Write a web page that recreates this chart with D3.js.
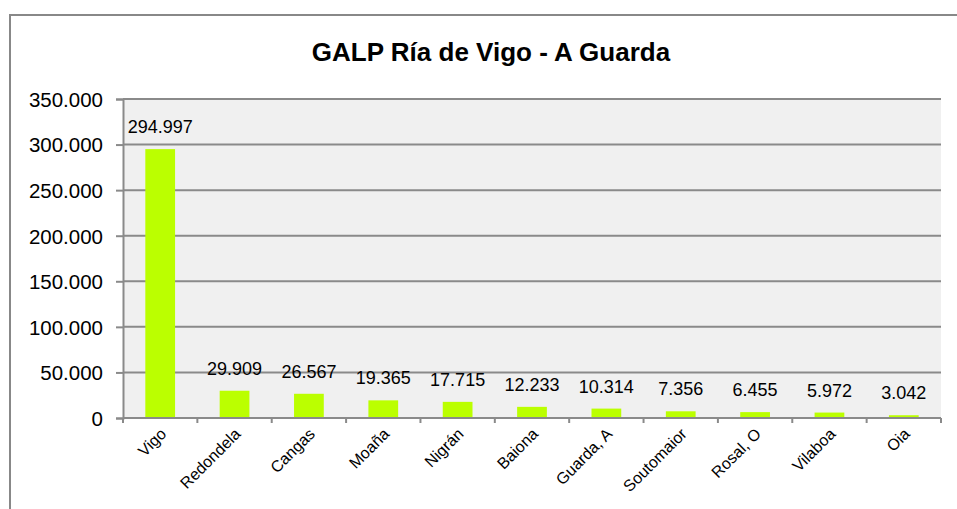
<!DOCTYPE html>
<html>
<head>
<meta charset="utf-8">
<script src="https://cdn.jsdelivr.net/npm/d3@7"></script>
<style>
  body { margin: 0; background: #fff; }
  text { font-family: "Liberation Sans", Arial, Helvetica, sans-serif; fill: #000; }
</style>
</head>
<body>
<div class="viz"></div>
<script>
var municipios = [ "Vigo", "Redondela", "Cangas", "Moaña", "Nigrán", "Baiona", "Guarda, A", "Soutomaior", "Rosal, O", "Vilaboa", "Oia" ],
    poboacion = [ 294997, 29909, 26567, 19365, 17715, 12233, 10314, 7356, 6455, 5972, 3042 ],
    yTicks = [ 0, 50000, 100000, 150000, 200000, 250000, 300000, 350000 ],
    title = "GALP Ría de Vigo - A Guarda";

var W = 957, H = 509,
    plot = { left: 123, top: 99, right: 941, bottom: 418 };

var locale = d3.formatLocale( { decimal: ",", thousands: ".", grouping: [ 3 ], currency: [ "", "" ] } ),
    fmt = locale.format( ",d" );

var svg = d3.select( ".viz" )
    .append( "svg" )
    .attr( "width", W )
    .attr( "height", H );

// outer chart frame (runs off the right and bottom edges)
svg.append( "rect" )
    .attr( "x", 10 )
    .attr( "y", 15 )
    .attr( "width", 980 )
    .attr( "height", 540 )
    .attr( "fill", "#fff" )
    .attr( "stroke", "#888" )
    .attr( "stroke-width", 2 );

svg.append( "text" )
    .attr( "x", 491 )
    .attr( "y", 61 )
    .attr( "text-anchor", "middle" )
    .style( "font-size", "26px" )
    .style( "font-weight", "bold" )
    .text( title );

var x = d3.scaleBand()
    .domain( municipios )
    .range( [ plot.left, plot.right ] )
    .paddingInner( 0.6 )
    .paddingOuter( 0.3 );

var y = d3.scaleLinear()
    .domain( [ 0, 350000 ] )
    .range( [ plot.bottom, plot.top ] );

svg.append( "rect" )
    .attr( "x", plot.left )
    .attr( "y", plot.top )
    .attr( "width", plot.right - plot.left )
    .attr( "height", plot.bottom - plot.top )
    .attr( "fill", "#f0f0f0" );

// gridlines
svg.append( "g" )
    .selectAll( "line" )
    .data( yTicks.slice( 1 ) )
    .enter()
    .append( "line" )
    .attr( "x1", plot.left )
    .attr( "x2", plot.right )
    .attr( "y1", function( d ) { return y( d ); } )
    .attr( "y2", function( d ) { return y( d ); } )
    .attr( "stroke", "#8a8a8a" )
    .attr( "stroke-width", 2 );

// y axis
var yAxis = svg.append( "g" )
    .attr( "transform", "translate(" + plot.left + ",0)" )
    .call( d3.axisLeft( y ).tickValues( yTicks ).tickFormat( fmt ).tickSize( 7 ).tickPadding( 13 ) );
yAxis.select( ".domain" ).attr( "stroke", "#8a8a8a" ).attr( "stroke-width", 2 );
yAxis.selectAll( ".tick line" ).attr( "stroke", "#8a8a8a" ).attr( "stroke-width", 2 );
yAxis.selectAll( "text" )
    .style( "font-size", "20.5px" )
    .attr( "fill", "#000" )
    .attr( "dy", "0.36em" );

// bars
svg.append( "g" )
    .selectAll( "rect" )
    .data( poboacion )
    .enter()
    .append( "rect" )
    .attr( "x", function( d, i ) { return x( municipios[ i ] ); } )
    .attr( "y", function( d ) { return y( d ); } )
    .attr( "width", x.bandwidth() )
    .attr( "height", function( d ) { return plot.bottom - y( d ); } )
    .attr( "fill", "#bbff00" );

// value labels
svg.append( "g" )
    .selectAll( "text" )
    .data( poboacion )
    .enter()
    .append( "text" )
    .attr( "x", function( d, i ) { return x( municipios[ i ] ) + x.bandwidth() / 2; } )
    .attr( "y", function( d ) { return y( d ) - 16; } )
    .attr( "text-anchor", "middle" )
    .style( "font-size", "18px" )
    .text( function( d ) { return fmt( d ); } );

// x axis: line with ticks between categories
var bounds = d3.range( municipios.length + 1 ).map( function( i ) { return plot.left + i * ( plot.right - plot.left ) / municipios.length; } );
var xAxis = svg.append( "g" );
xAxis.append( "line" )
    .attr( "x1", plot.left )
    .attr( "x2", plot.right )
    .attr( "y1", plot.bottom )
    .attr( "y2", plot.bottom )
    .attr( "stroke", "#8a8a8a" )
    .attr( "stroke-width", 2 );
xAxis.selectAll( ".xt" )
    .data( bounds )
    .enter()
    .append( "line" )
    .attr( "class", "xt" )
    .attr( "x1", function( d ) { return d; } )
    .attr( "x2", function( d ) { return d; } )
    .attr( "y1", plot.bottom )
    .attr( "y2", plot.bottom + 5 )
    .attr( "stroke", "#8a8a8a" )
    .attr( "stroke-width", 2 );

xAxis.selectAll( ".xl" )
    .data( municipios )
    .enter()
    .append( "text" )
    .attr( "class", "xl" )
    .attr( "text-anchor", "end" )
    .style( "font-size", "16px" )
    .attr( "transform", function( d ) {
        return "translate(" + ( x( d ) + x.bandwidth() / 2 + 7 ) + "," + ( plot.bottom + 17 ) + ") rotate(-45)";
    } )
    .text( function( d ) { return d; } );
</script>
</body>
</html>
